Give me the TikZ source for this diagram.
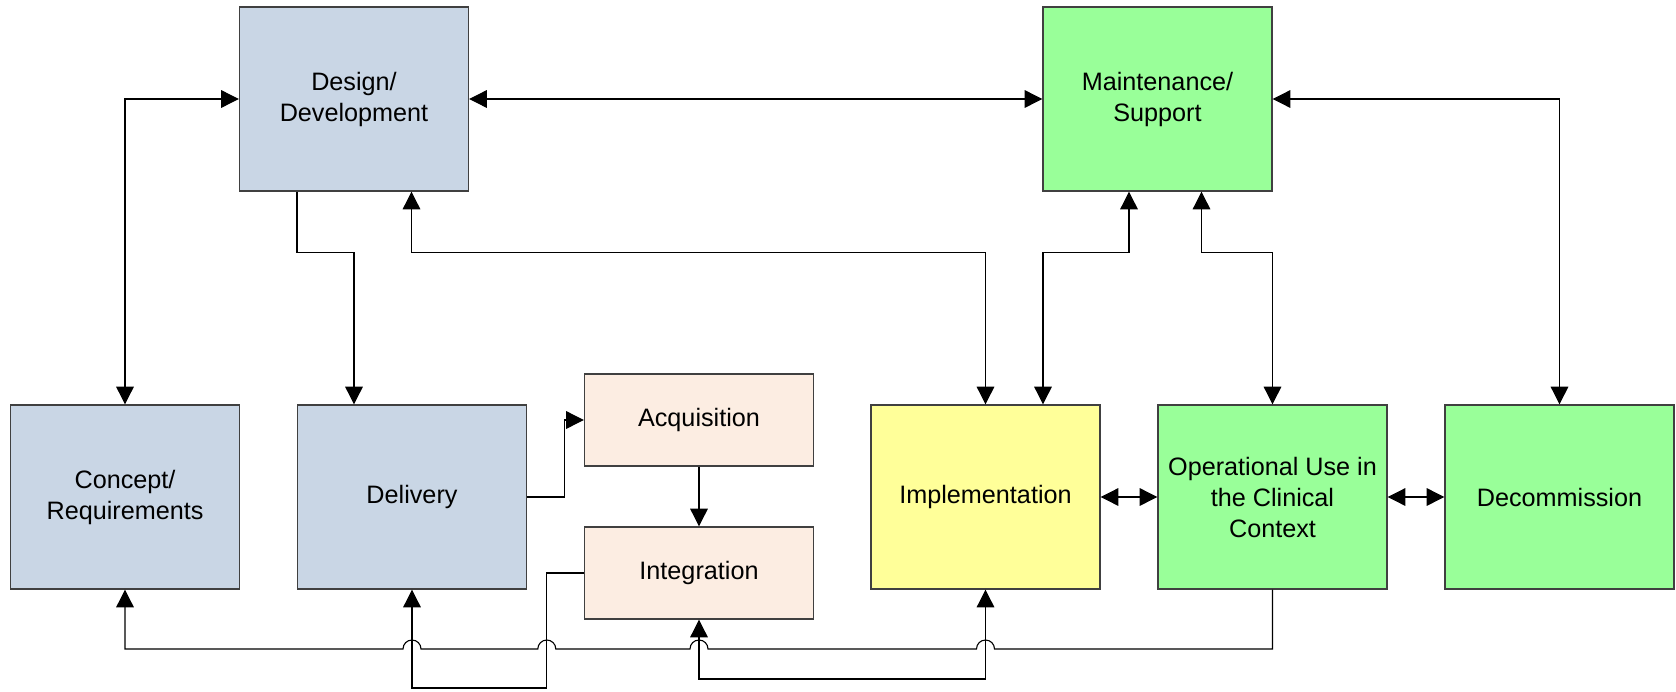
\documentclass[tikz,border=0pt]{standalone}
\usepackage{fontspec}
\setmainfont{Liberation Sans}
\usetikzlibrary{positioning}
\usetikzlibrary{arrows.meta}

\definecolor{phaseBlue}{RGB}{201,214,229}
\definecolor{phaseGreen}{RGB}{153,255,153}
\definecolor{phaseYellow}{RGB}{255,255,153}
\definecolor{phasePeach}{RGB}{252,237,226}
\definecolor{boxEdge}{RGB}{64,64,64}

\tikzset{
  phase/.style={draw=boxEdge, line width=0.7pt, minimum width=114.5pt, minimum height=92pt,
    align=center, inner sep=2pt, font=\fontsize{12.6}{15.5}\selectfont},
  stage/.style={phase, minimum height=46pt, fill=phasePeach},
  link/.style={draw, line width=0.55pt, {Triangle[length=8.8pt,width=8.8pt]}-{Triangle[length=8.8pt,width=8.8pt]}},
  flow/.style={draw, line width=0.55pt, -{Triangle[length=8.8pt,width=8.8pt]}},
}

\begin{document}
\begin{tikzpicture}[x=0.5pt, y=-0.5pt, node distance=28.3pt]
    \useasboundingbox (0,0) rectangle (1676,691);

    \node[phase, fill=phaseBlue] (designDev) at (354,99) {Design/\\Development};
    \node[phase, fill=phaseGreen] (maintSupport) at (1157.5,99) {Maintenance/\\Support};
    \node[phase, fill=phaseBlue] (conceptReq) at (125,497) {Concept/\\Requirements};
    \node[phase, fill=phaseBlue, right=of conceptReq] (delivery) {Delivery};
    \node[stage, right=of delivery, yshift=38.5pt] (acquisition) {Acquisition};
    \node[stage, below=29.8pt of acquisition] (integration) {Integration};
    \node[phase, fill=phaseYellow] (implementation) at (985.5,497) {Implementation};
    \node[phase, fill=phaseGreen, right=of implementation] (operationalUse) {Operational Use in\\the Clinical\\Context};
    \node[phase, fill=phaseGreen, right=of operationalUse] (decommission) {Decommission};

    \coordinate (busRow) at (0,649);
    \coordinate (lowRow) at (0,679);
    \coordinate (bottomRow) at (0,688);

    \draw[link] (designDev.west) -| (conceptReq.north);
    \draw[link] (designDev.east) -- (maintSupport.west);
    \draw[link] (maintSupport.east) -| (decommission.north);

    \draw[flow] ([xshift=-28.5pt]designDev.south) -- ++(0,61) -| ([xshift=-29pt]delivery.north);
    \draw[link] ([xshift=28.75pt]designDev.south) -- ++(0,61) -| (implementation.north);
    \draw[link] ([xshift=-14.25pt]maintSupport.south) -- ++(0,61) -| ([xshift=28.75pt]implementation.north);
    \draw[link] ([xshift=22pt]maintSupport.south) -- ++(0,61) -| (operationalUse.north);

    \draw[flow] (delivery.east) -- ++(37,0) |- (acquisition.west);
    \draw[flow] (acquisition) -- (integration);
    \draw[link] (implementation) -- (operationalUse);
    \draw[link] (operationalUse) -- (decommission);

    \draw[flow] (integration.west) -- ++(-37,0) coordinate (integDrop) |- (delivery.south |- bottomRow) -- (delivery.south);
    \draw[link] (implementation.south) |- (integration.south |- lowRow) -- (integration.south);

    % feedback bus, hopping over the crossing lines
    \draw[flow] (operationalUse.south) -- (operationalUse.south |- busRow)
      -- ([xshift=4.5pt]implementation.south |- busRow) arc[start angle=0, end angle=180, radius=4.5pt]
      -- ([xshift=4.5pt]integration.south |- busRow) arc[start angle=0, end angle=180, radius=4.5pt]
      -- ([xshift=4.5pt]integDrop |- busRow) arc[start angle=0, end angle=180, radius=4.5pt]
      -- ([xshift=4.5pt]delivery.south |- busRow) arc[start angle=0, end angle=180, radius=4.5pt]
      -- (conceptReq.south |- busRow) -- (conceptReq.south);
\end{tikzpicture}
\end{document}
